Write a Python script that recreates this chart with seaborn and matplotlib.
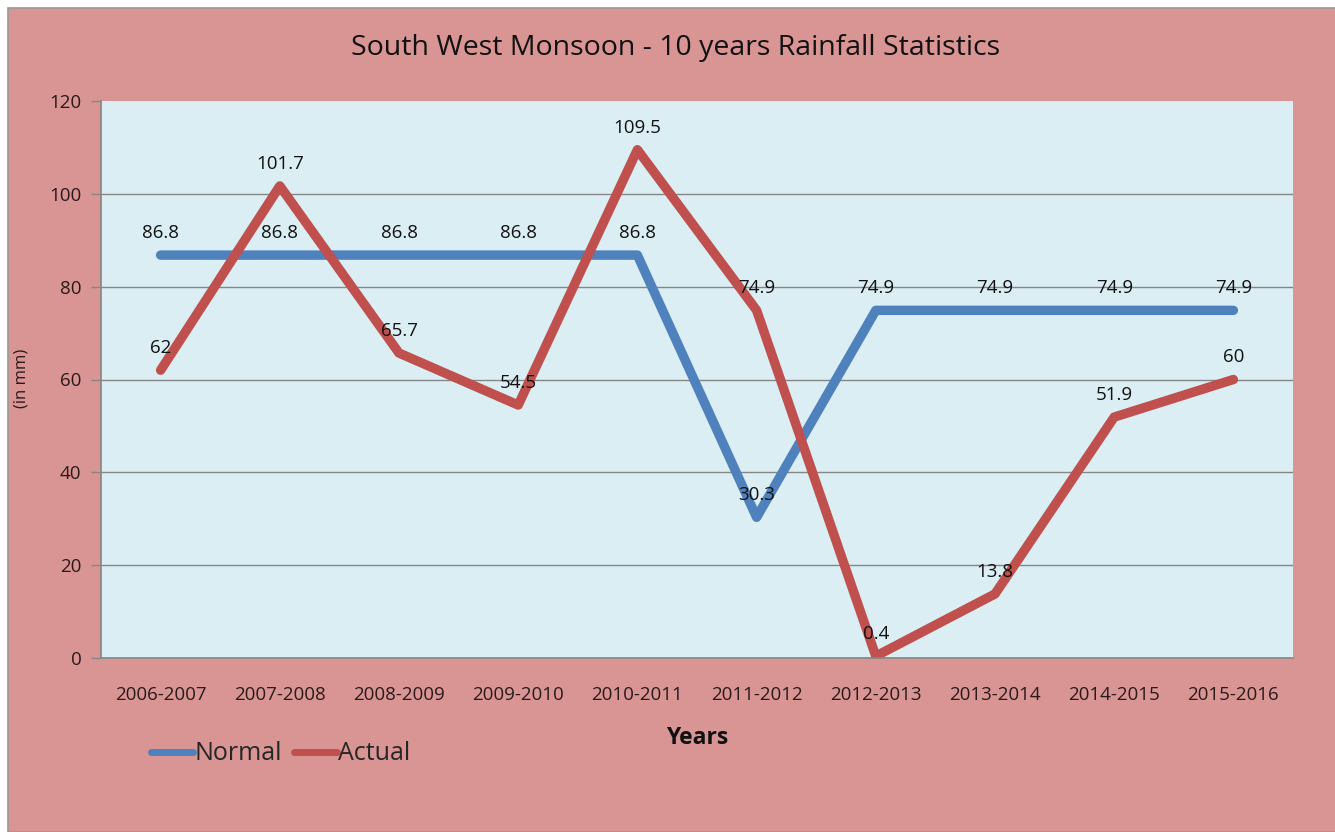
import matplotlib
matplotlib.use('Agg')
import matplotlib.pyplot as plt
import seaborn as sns
import pandas as pd
from matplotlib.patches import Rectangle
from matplotlib.lines import Line2D

years = ['2006-2007', '2007-2008', '2008-2009', '2009-2010', '2010-2011',
         '2011-2012', '2012-2013', '2013-2014', '2014-2015', '2015-2016']
normal = [86.8, 86.8, 86.8, 86.8, 86.8, 30.3, 74.9, 74.9, 74.9, 74.9]
actual = [62, 101.7, 65.7, 54.5, 109.5, 74.9, 0.4, 13.8, 51.9, 60]

df = pd.DataFrame({
    'Years': years * 2,
    'value': normal + actual,
    'series': ['Normal'] * len(years) + ['Actual'] * len(years),
})

sns.set_theme(style='white')
plt.rcParams['font.family'] = ['Open Sans', 'DejaVu Sans']

pink = '#D99594'
fig = plt.figure(figsize=(13.35, 8.32), dpi=100, facecolor='white')
fig.patches.append(Rectangle((8 / 1335, 0), 1.0, 1 - 8 / 832, transform=fig.transFigure,
                             facecolor=pink, edgecolor='#9a9a9a', linewidth=1.2, zorder=-5))

ax = fig.add_axes([101 / 1335, 1 - 658 / 832, (1293 - 101) / 1335, (658 - 101) / 832])
ax.set_facecolor('#DBEEF3')

sns.lineplot(data=df, x='Years', y='value', hue='series',
             palette={'Normal': '#4F81BD', 'Actual': '#C0504D'},
             linewidth=6.8, sort=False, ax=ax, legend=False,
             solid_capstyle='round', solid_joinstyle='round')

for i, v in enumerate(normal):
    ax.annotate(f'{v:g}', (i, v), xytext=(0, 16), textcoords='offset points',
                ha='center', va='center', fontsize=13.5, color='#111111')
for i, v in enumerate(actual):
    ax.annotate(f'{v:g}', (i, v), xytext=(0, 16), textcoords='offset points',
                ha='center', va='center', fontsize=13.5, color='#111111')

ax.set_xlim(-0.5, 9.5)
ax.set_ylim(0, 120)
ax.set_yticks(range(0, 121, 20))
ax.set_xticks(range(len(years)))
ax.set_xticklabels(years)
ax.set_xticks([i - 0.5 for i in range(len(years) + 1)], minor=True)
ax.tick_params(axis='x', which='major', length=0, pad=20, labelsize=13.5, labelcolor='#2a1a1a')
ax.tick_params(axis='x', which='minor', length=6, width=1, color='#868686', direction='out')
ax.tick_params(axis='y', which='major', length=7, width=1, color='#868686', pad=7,
               labelsize=13.5, labelcolor='#2a1a1a', left=True)

ax.yaxis.grid(True, color='#868686', linewidth=1)
ax.get_ygridlines()[-1].set_visible(False)
ax.set_axisbelow(True)
for s in ['top', 'right']:
    ax.spines[s].set_visible(False)
for s in ['left', 'bottom']:
    ax.spines[s].set_color('#868686')
    ax.spines[s].set_linewidth(1.2)

ax.set_xlabel('Years', fontsize=16.5, fontweight='bold', color='#111111', labelpad=16)
ax.set_ylabel('')
fig.text(22 / 1335, 1 - 378 / 832, '(in mm)', rotation=90, ha='center', va='center',
         fontsize=12, color='#2a1a1a')

fig.text(676 / 1335, 1 - 48 / 832, 'South West Monsoon - 10 years Rainfall Statistics',
         ha='center', va='center', fontsize=20.5, color='#111111')

handles = [Line2D([], [], color='#4F81BD', linewidth=5),
           Line2D([], [], color='#C0504D', linewidth=5)]
fig.legend(handles, ['Normal', 'Actual'], loc='center left',
           bbox_to_anchor=(128 / 1335, 1 - 754 / 832), ncol=2, frameon=False,
           fontsize=18, handlelength=1.7, handletextpad=0.05, columnspacing=0.5)

fig.savefig('out.png', dpi=100, facecolor=fig.get_facecolor())
